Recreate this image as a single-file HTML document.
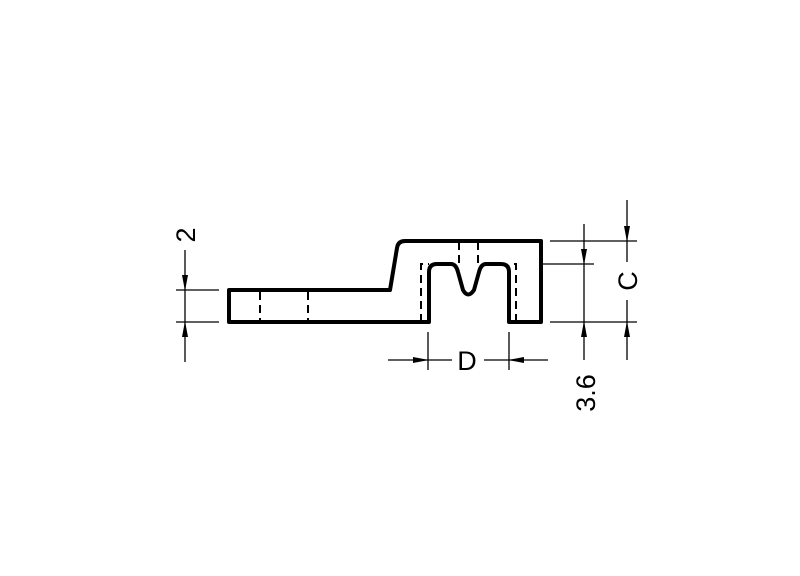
<!DOCTYPE html>
<html><head><style>body{margin:0;background:#fff}svg{display:block}</style></head><body>
<svg width="800" height="576" viewBox="0 0 800 576" xmlns="http://www.w3.org/2000/svg">
<defs><marker id="a" markerWidth="16" markerHeight="8" refX="15" refY="4" orient="auto" markerUnits="userSpaceOnUse"><path d="M0,1 L16,4 L0,7 Z" fill="#000"/></marker></defs>
<g fill="none" stroke="#000" stroke-width="4" stroke-linejoin="round">
<path d="M229,290 L229,322 L429,322 L429,272 Q429,264 437,264 L451,264 Q456,264 458,272 L463,290 Q468,299 474,290 L479,272 Q481,264 486,264 L501,264 Q509,264 509,272 L509,322 L541,322 L541,241 L405,241 Q398,241 397,248 L390,290 Z"/>
</g>
<g fill="none" stroke="#000" stroke-width="2" stroke-dasharray="8,5">
<path d="M260,292 V322 M308,292 V322 M459,242 V264 M478,242 V264 M421,322 V264 H429 M516,322 V264 H509"/>
</g>
<g fill="none" stroke="#000" stroke-width="1.3">
<path d="M176,290 H219 M176,322 H219"/>
<path d="M185,250 V290" marker-end="url(#a)"/><path d="M185,362 V322" marker-end="url(#a)"/>
<path d="M185,290 V322"/>
<path d="M550,241 H637 M541,264 H594 M550,322 H637"/>
<path d="M584,224 V264" marker-end="url(#a)"/><path d="M584,360 V322" marker-end="url(#a)"/><path d="M584,264 V322"/>
<path d="M627,200 V241" marker-end="url(#a)"/><path d="M627,360 V322" marker-end="url(#a)"/>
<path d="M627,241 V262 M627,300 V322"/>
<path d="M428,332 V370 M509,332 V370"/>
<path d="M388,360 H428" marker-end="url(#a)"/><path d="M548,360 H509" marker-end="url(#a)"/>
<path d="M428,360 H452 M484,360 H509"/>
</g>
<g font-family="Liberation Sans, sans-serif" font-size="27" fill="#000" text-anchor="middle">
<text x="467" y="370">D</text>
<text transform="translate(195,235) rotate(-90)">2</text>
<text transform="translate(637,281) rotate(-90)">C</text>
<text transform="translate(595,393) rotate(-90)">3.6</text>
</g>
</svg>
</body></html>
